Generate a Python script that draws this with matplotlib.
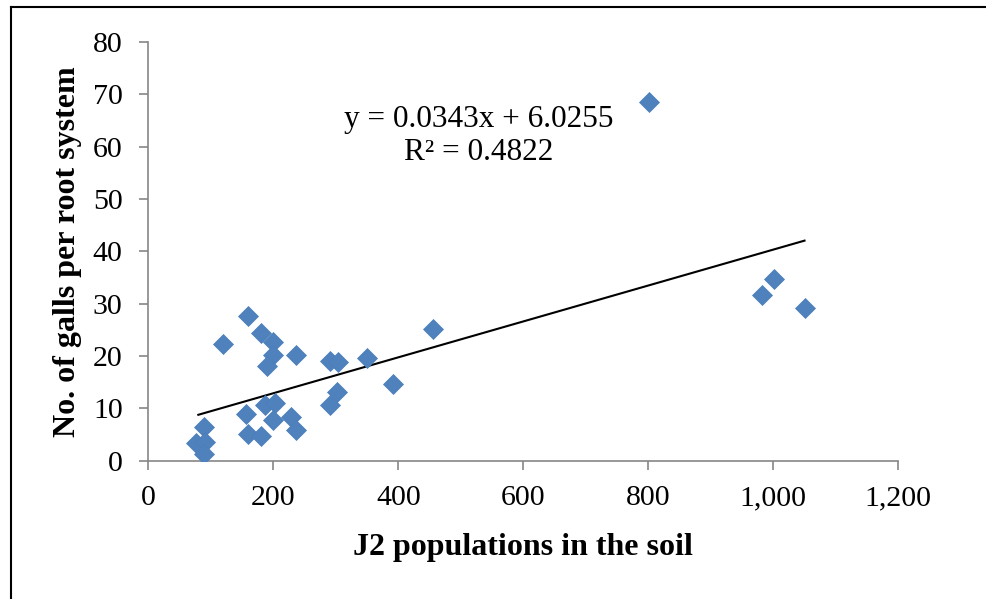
import numpy as np
import matplotlib.pyplot as plt
from matplotlib.ticker import FuncFormatter
from matplotlib.lines import Line2D

# J2 counts in soil vs galls per root system
j2 = [160, 120, 180, 200, 200, 190, 236, 290, 304, 350, 456, 391, 302, 290,
      186, 202, 200, 157, 229, 237, 160, 181, 89, 77, 90, 89, 801, 982, 1001, 1051]
galls = [27.6, 22.2, 24.4, 22.6, 20.2, 18.1, 20.2, 19.0, 18.9, 19.7, 25.2, 14.6, 13.1, 10.6,
         10.6, 11.0, 7.8, 9.0, 8.3, 5.9, 5.1, 4.8, 6.5, 3.4, 3.6, 1.3, 68.6, 31.6, 34.8, 29.1]

slope = 0.0343
intercept = 6.0255
fit_x = [80, 1050]

plt.rcParams['font.family'] = ['Liberation Serif', 'DejaVu Serif']

fig = plt.figure(figsize=(9.87, 5.99), dpi=100)
ax = fig.add_axes([0.1503, 0.2309, 0.7598, 0.6991])

ax.plot(j2, galls, linestyle="none", marker="D", markersize=10,
        color="#4F81BD", markeredgecolor="#4A7EBB", markeredgewidth=0.5, zorder=3)
ax.plot(fit_x, [slope * v + intercept for v in fit_x], color="black", lw=1.5, zorder=2)

ax.text(529, 62.0, "y = 0.0343x + 6.0255\nR\u00b2 = 0.4822", ha="center", va="center",
        fontsize=22.5, linespacing=1.2)

ax.set_xlim(0, 1200)
ax.set_ylim(0, 80)
ax.set_xticks(range(0, 1201, 200))
ax.set_yticks(range(0, 81, 10))
ax.xaxis.set_major_formatter(FuncFormatter(lambda v, p: f"{v:,.0f}"))

for s in ["top", "right"]:
    ax.spines[s].set_visible(False)
for s in ["left", "bottom"]:
    ax.spines[s].set_color("#868686")
    ax.spines[s].set_linewidth(1.2)
ax.tick_params(direction="out", length=6.5, width=1.2, color="#868686",
               labelsize=21.5)
ax.tick_params(axis="x", pad=11)
ax.tick_params(axis="y", pad=12)

ax.set_xlabel("J2 populations in the soil", fontsize=23, fontweight="bold", labelpad=16)
ax.set_ylabel("No. of galls per root system", fontsize=23, fontweight="bold", labelpad=8)

# outer frame (only top and left edges fall inside the image)
fig.add_artist(Line2D([11 / 987, 11 / 987], [0, 1 - 7 / 599], color="black", lw=1.5,
                      transform=fig.transFigure))
fig.add_artist(Line2D([11 / 987, 1], [1 - 7 / 599, 1 - 7 / 599], color="black", lw=1.5,
                      transform=fig.transFigure))

fig.savefig("out.png", dpi=100)
